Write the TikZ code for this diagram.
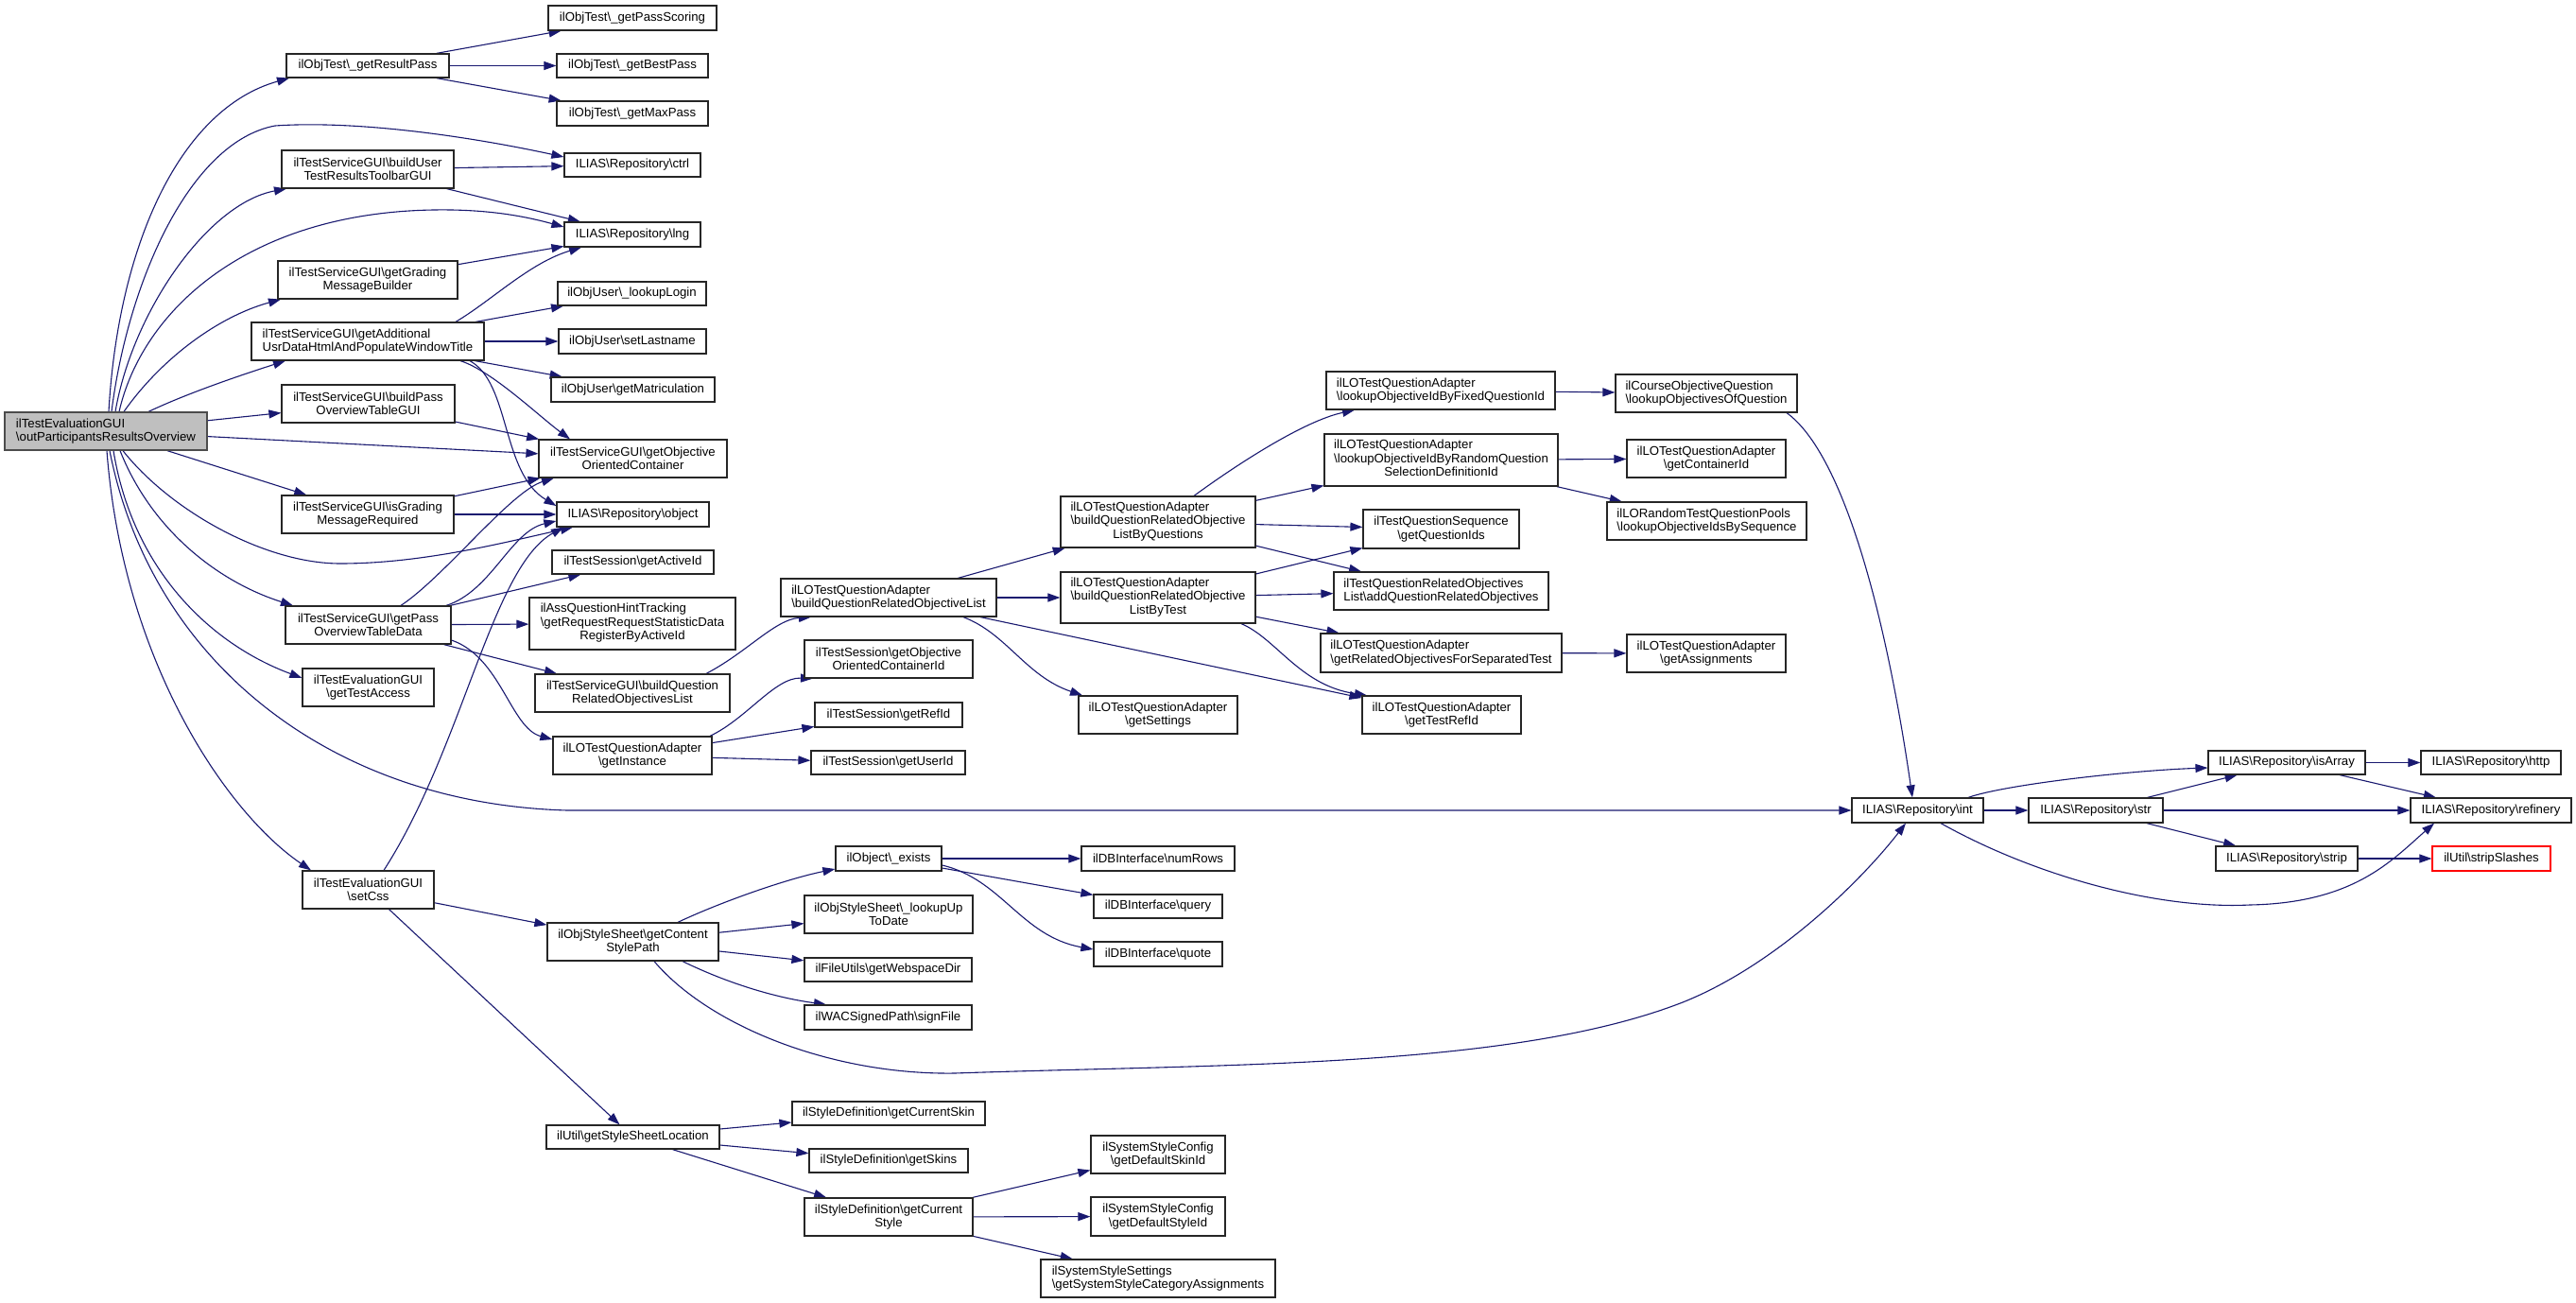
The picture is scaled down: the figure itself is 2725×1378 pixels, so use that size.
\documentclass[tikz,border=0pt]{standalone}
\usepackage{fontspec}
\setmainfont{Liberation Sans}
\usetikzlibrary{arrows.meta,backgrounds}
\definecolor{edgecol}{RGB}{25,25,112}
\definecolor{mainfill}{RGB}{191,191,191}
\newcommand\bsl{\textbackslash}
\newcommand\bx[7]{\node[bxs,#6,minimum width={#4pt-#2pt},minimum height={#5pt-#3pt}] (#1) at ({(#2+#4)/2},{(#3+#5)/2}) {#7};}
\tikzset{
  bxs/.style={draw=black!85,fill=white,line width=1.2pt,inner sep=0pt,rectangle,font={\fontsize{13.2}{14.5}\selectfont}},
  e/.style={draw=edgecol,line width=1.1pt,-{Triangle[length=13pt,width=9pt]}}
}
\begin{document}
\begin{tikzpicture}[x=1pt,y=-1pt]
\useasboundingbox (0,0) rectangle (2725,1378);
% nodes
\bx{main}{5}{436}{219}{476}{fill=mainfill,draw=black!70,align=left}{ilTestEvaluationGUI\\\bsl outParticipantsResultsOverview}
\bx{rp}{303}{57}{475}{82}{}{ilObjTest\bsl\_getResultPass}
\bx{ps}{580}{6}{758}{32}{}{ilObjTest\bsl\_getPassScoring}
\bx{bp}{589}{57}{749}{82}{}{ilObjTest\bsl\_getBestPass}
\bx{mp}{589}{107}{749}{133}{}{ilObjTest\bsl\_getMaxPass}
\bx{ctrl}{597}{162}{741}{187}{}{ILIAS\bsl Repository\bsl ctrl}
\bx{bu}{298}{159}{480}{199}{align=center}{ilTestServiceGUI\bsl buildUser\\TestResultsToolbarGUI}
\bx{lng}{597}{235}{741}{261}{}{ILIAS\bsl Repository\bsl lng}
\bx{gmb}{294}{276}{484}{316}{align=center}{ilTestServiceGUI\bsl getGrading\\MessageBuilder}
\bx{addl}{266}{341}{512}{381}{align=left}{ilTestServiceGUI\bsl getAdditional\\UsrDataHtmlAndPopulateWindowTitle}
\bx{ll}{590}{298}{747}{323}{}{ilObjUser\bsl\_lookupLogin}
\bx{sl}{591}{348}{747}{374}{}{ilObjUser\bsl setLastname}
\bx{gm}{583}{399}{756}{425}{}{ilObjUser\bsl getMatriculation}
\bx{bpt}{298}{407}{481}{447}{align=center}{ilTestServiceGUI\bsl buildPass\\OverviewTableGUI}
\bx{goc}{570}{465}{769}{505}{align=center}{ilTestServiceGUI\bsl getObjective\\OrientedContainer}
\bx{ig}{298}{524}{480}{564}{align=center}{ilTestServiceGUI\bsl isGrading\\MessageRequired}
\bx{obj}{589}{531}{750}{557}{}{ILIAS\bsl Repository\bsl object}
\bx{gai}{584}{582}{755}{607}{}{ilTestSession\bsl getActiveId}
\bx{gpd}{302}{641}{477}{681}{align=center}{ilTestServiceGUI\bsl getPass\\OverviewTableData}
\bx{ahint}{560}{632}{778}{687}{}{\begin{tabular}{@{}l@{}}ilAssQuestionHintTracking\\\bsl getRequestRequestStatisticData\\\multicolumn{1}{@{}c@{}}{RegisterByActiveId}\end{tabular}}
\bx{bqr}{566}{713}{772}{753}{align=center}{ilTestServiceGUI\bsl buildQuestion\\RelatedObjectivesList}
\bx{gta}{320}{707}{459}{747}{align=center}{ilTestEvaluationGUI\\\bsl getTestAccess}
\bx{gi}{585}{779}{753}{819}{align=center}{ilLOTestQuestionAdapter\\\bsl getInstance}
\bx{bqrol}{826}{612}{1054}{652}{align=left}{ilLOTestQuestionAdapter\\\bsl buildQuestionRelatedObjectiveList}
\bx{gooc}{851}{677}{1029}{717}{align=center}{ilTestSession\bsl getObjective\\OrientedContainerId}
\bx{gri}{862}{743}{1018}{769}{}{ilTestSession\bsl getRefId}
\bx{gui}{858}{794}{1021}{819}{}{ilTestSession\bsl getUserId}
\bx{bq}{1122}{525}{1328}{579}{}{\begin{tabular}{@{}l@{}}ilLOTestQuestionAdapter\\\bsl buildQuestionRelatedObjective\\\multicolumn{1}{@{}c@{}}{ListByQuestions}\end{tabular}}
\bx{bt}{1122}{605}{1328}{659}{}{\begin{tabular}{@{}l@{}}ilLOTestQuestionAdapter\\\bsl buildQuestionRelatedObjective\\\multicolumn{1}{@{}c@{}}{ListByTest}\end{tabular}}
\bx{gs}{1141}{736}{1309}{776}{align=center}{ilLOTestQuestionAdapter\\\bsl getSettings}
\bx{fix}{1403}{393}{1645}{433}{align=left}{ilLOTestQuestionAdapter\\\bsl lookupObjectiveIdByFixedQuestionId}
\bx{rnd}{1401}{459}{1648}{514}{}{\begin{tabular}{@{}l@{}}ilLOTestQuestionAdapter\\\bsl lookupObjectiveIdByRandomQuestion\\\multicolumn{1}{@{}c@{}}{SelectionDefinitionId}\end{tabular}}
\bx{gqi}{1442}{539}{1607}{580}{align=center}{ilTestQuestionSequence\\\bsl getQuestionIds}
\bx{aqro}{1411}{605}{1638}{645}{align=left}{ilTestQuestionRelatedObjectives\\List\bsl addQuestionRelatedObjectives}
\bx{gro}{1397}{670}{1652}{711}{align=left}{ilLOTestQuestionAdapter\\\bsl getRelatedObjectivesForSeparatedTest}
\bx{gtr}{1441}{736}{1609}{776}{align=center}{ilLOTestQuestionAdapter\\\bsl getTestRefId}
\bx{coq}{1709}{396}{1901}{436}{align=left}{ilCourseObjectiveQuestion\\\bsl lookupObjectivesOfQuestion}
\bx{gci}{1721}{465}{1889}{505}{align=center}{ilLOTestQuestionAdapter\\\bsl getContainerId}
\bx{rtqp}{1700}{531}{1911}{571}{align=left}{ilLORandomTestQuestionPools\\\bsl lookupObjectiveIdsBySequence}
\bx{gas}{1721}{671}{1889}{711}{align=center}{ilLOTestQuestionAdapter\\\bsl getAssignments}
\bx{int}{1959}{844}{2098}{870}{}{ILIAS\bsl Repository\bsl int}
\bx{str}{2146}{844}{2288}{870}{}{ILIAS\bsl Repository\bsl str}
\bx{isa}{2336}{794}{2502}{819}{}{ILIAS\bsl Repository\bsl isArray}
\bx{http}{2561}{794}{2709}{819}{}{ILIAS\bsl Repository\bsl http}
\bx{ref}{2550}{844}{2720}{870}{}{ILIAS\bsl Repository\bsl refinery}
\bx{strip}{2344}{895}{2494}{921}{}{ILIAS\bsl Repository\bsl strip}
\bx{ss}{2573}{895}{2698}{921}{draw=red}{ilUtil\bsl stripSlashes}
\bx{css}{320}{921}{459}{961}{align=center}{ilTestEvaluationGUI\\\bsl setCss}
\bx{csp}{579}{976}{760}{1016}{align=center}{ilObjStyleSheet\bsl getContent\\StylePath}
\bx{ssl}{578}{1190}{761}{1215}{}{ilUtil\bsl getStyleSheetLocation}
\bx{ex}{884}{895}{996}{921}{}{ilObject\bsl\_exists}
\bx{lut}{851}{947}{1029}{987}{align=center}{ilObjStyleSheet\bsl\_lookupUp\\ToDate}
\bx{gwd}{851}{1013}{1028}{1038}{}{ilFileUtils\bsl getWebspaceDir}
\bx{sf}{851}{1063}{1028}{1089}{}{ilWACSignedPath\bsl signFile}
\bx{gcs}{838}{1165}{1042}{1190}{}{ilStyleDefinition\bsl getCurrentSkin}
\bx{gsk}{856}{1215}{1024}{1240}{}{ilStyleDefinition\bsl getSkins}
\bx{gcst}{851}{1267}{1029}{1307}{align=center}{ilStyleDefinition\bsl getCurrent\\Style}
\bx{nr}{1144}{895}{1306}{921}{}{ilDBInterface\bsl numRows}
\bx{qy}{1157}{946}{1293}{971}{}{ilDBInterface\bsl query}
\bx{qt}{1157}{996}{1293}{1022}{}{ilDBInterface\bsl quote}
\bx{dsk}{1154}{1201}{1296}{1241}{align=center}{ilSystemStyleConfig\\\bsl getDefaultSkinId}
\bx{dst}{1154}{1266}{1296}{1307}{align=center}{ilSystemStyleConfig\\\bsl getDefaultStyleId}
\bx{ssca}{1101}{1332}{1349}{1372}{align=left}{ilSystemStyleSettings\\\bsl getSystemStyleCategoryAssignments}
% edges
\begin{pgfonlayer}{background}
\fill[white] (0,0) rectangle (2725,1378);
% from main
\draw[e] (main.north -| 115,0) .. controls (125,260) and (190,115) .. (rp.south -| 306,0);
\draw[e] (main.north -| 118,0) .. controls (135,300) and (200,150) .. (291,133) .. controls (380,127) and (500,145) .. (ctrl.west |- 0,166);
\draw[e] (main.north -| 122,0) .. controls (140,330) and (220,215) .. (bu.south -| 303,0);
\draw[e] (main.north -| 126,0) .. controls (150,330) and (260,225) .. (459,222) .. controls (520,221) and (560,230) .. (lng.west |- 0,240);
\draw[e] (main.north -| 131,0) .. controls (170,380) and (230,335) .. (gmb.south -| 297,0);
\draw[e] (main.north -| 157,0) .. controls (200,415) and (260,395) .. (addl.south -| 302,0);
\draw[e] (main) -- (bpt);
\draw[e] (main) -- (goc);
\draw[e] (main) -- (ig);
\draw[e] (main.south -| 130,0) .. controls (180,540) and (280,596) .. (360,596) .. controls (450,596) and (540,572) .. (obj.south -| 606,0);
\draw[e] (main.south -| 127,0) .. controls (160,560) and (230,615) .. (gpd.north -| 310,0);
\draw[e] (main.south -| 120,0) .. controls (140,600) and (220,680) .. (gta.west |- 0,717);
\draw[e] (main.south -| 116,0) .. controls (160,700) and (350,850) .. (600,857) -- (int.west |- 0,857);
\draw[e] (main.south -| 113,0) .. controls (130,700) and (240,860) .. (css.north -| 329,0);
% getResultPass
\draw[e] (rp) -- (ps);
\draw[e] (rp) -- (bp);
\draw[e] (rp) -- (mp);
% buildUser
\draw[e] (bu) -- (ctrl);
\draw[e] (bu) -- (lng);
\draw[e] (gmb) -- (lng);
% getAdditional
\draw[e] (addl.north -| 482,0) .. controls (520,318) and (560,278) .. (lng.south -| 615,0);
\draw[e] (addl) -- (ll);
\draw[e] (addl) -- (sl);
\draw[e] (addl) -- (gm);
\draw[e] (addl.south -| 487,0) .. controls (520,392) and (570,440) .. (goc.north -| 603,0);
\draw[e] (addl.south -| 497,0) .. controls (540,405) and (530,500) .. (obj.west |- 0,535);
\draw[e] (bpt) -- (goc);
\draw[e] (ig) -- (goc);
\draw[e] (ig) -- (obj);
% getPass
\draw[e] (gpd.north -| 424,0) .. controls (470,610) and (540,520) .. (goc.south -| 586,0);
\draw[e] (gpd.north -| 472,0) .. controls (520,625) and (540,562) .. (obj.west |- 0,551);
\draw[e] (gpd) -- (gai);
\draw[e] (gpd) -- (ahint);
\draw[e] (gpd) -- (bqr);
\draw[e] (gpd.east |- 0,677) .. controls (530,695) and (540,770) .. (gi.west |- 0,782);
% setCss
\draw[e] (css.north -| 406,0) .. controls (490,790) and (520,600) .. (obj.south -| 596,0);
\draw[e] (css) -- (csp);
\draw[e] (css) -- (ssl);
% objectives
\draw[e] (bqr.north -| 747,0) .. controls (790,690) and (820,655) .. (bqrol.south -| 858,0);
\draw[e] (gi.north -| 751,0) .. controls (790,760) and (820,716) .. (gooc.south -| 860,0);
\draw[e] (gi) -- (gri);
\draw[e] (gi) -- (gui);
\draw[e] (bqrol) -- (bq);
\draw[e] (bqrol) -- (bt);
\draw[e] (bqrol) -- (gtr);
\draw[e] (bqrol.south -| 1019,0) .. controls (1065,670) and (1085,715) .. (gs.north -| 1145,0);
\draw[e] (bq.north -| 1263,0) .. controls (1310,490) and (1380,445) .. (fix.south -| 1433,0);
\draw[e] (bq) -- (rnd);
\draw[e] (bq) -- (gqi);
\draw[e] (bq) -- (aqro);
\draw[e] (bt) -- (gqi);
\draw[e] (bt) -- (aqro);
\draw[e] (bt) -- (gro);
\draw[e] (bt.south -| 1313,0) .. controls (1350,675) and (1375,725) .. (gtr.north -| 1446,0);
\draw[e] (fix) -- (coq);
\draw[e] (rnd) -- (gci);
\draw[e] (rnd) -- (rtqp);
\draw[e] (gro) -- (gas);
\draw[e] (coq.south -| 1890,0) .. controls (1950,480) and (1995,650) .. (int.north -| 2023,0);
% repository
\draw[e] (int.north -| 2082,0) .. controls (2120,830) and (2250,815) .. (isa.west |- 0,812);
\draw[e] (int) -- (str);
\draw[e] (int.south -| 2053,0) .. controls (2150,925) and (2280,962) .. (2380,957) .. controls (2490,955) and (2530,910) .. (ref.south -| 2575,0);
\draw[e] (str) -- (isa);
\draw[e] (str) -- (ref);
\draw[e] (str) -- (strip);
\draw[e] (isa) -- (http);
\draw[e] (isa) -- (ref);
\draw[e] (strip) -- (ss);
% style sheets
\draw[e] (csp.north -| 717,0) .. controls (760,955) and (830,930) .. (ex.west |- 0,919);
\draw[e] (csp) -- (lut);
\draw[e] (csp) -- (gwd);
\draw[e] (csp.south -| 722,0) .. controls (770,1040) and (820,1055) .. (sf.north -| 874,0);
\draw[e] (csp.south -| 692,0) .. controls (750,1085) and (880,1137) .. (1010,1135) .. controls (1300,1125) and (1600,1130) .. (1780,1060) .. controls (1880,1020) and (1970,930) .. (int.south -| 2016,0);
\draw[e] (ssl) -- (gcs);
\draw[e] (ssl) -- (gsk);
\draw[e] (ssl) -- (gcst);
\draw[e] (gcst) -- (dsk);
\draw[e] (gcst) -- (dst);
\draw[e] (gcst) -- (ssca);
\draw[e] (ex) -- (nr);
\draw[e] (ex) -- (qy);
\draw[e] (ex.east |- 0,915) .. controls (1060,930) and (1080,990) .. (qt.west |- 0,1004);
\end{pgfonlayer}
\end{tikzpicture}
\end{document}
